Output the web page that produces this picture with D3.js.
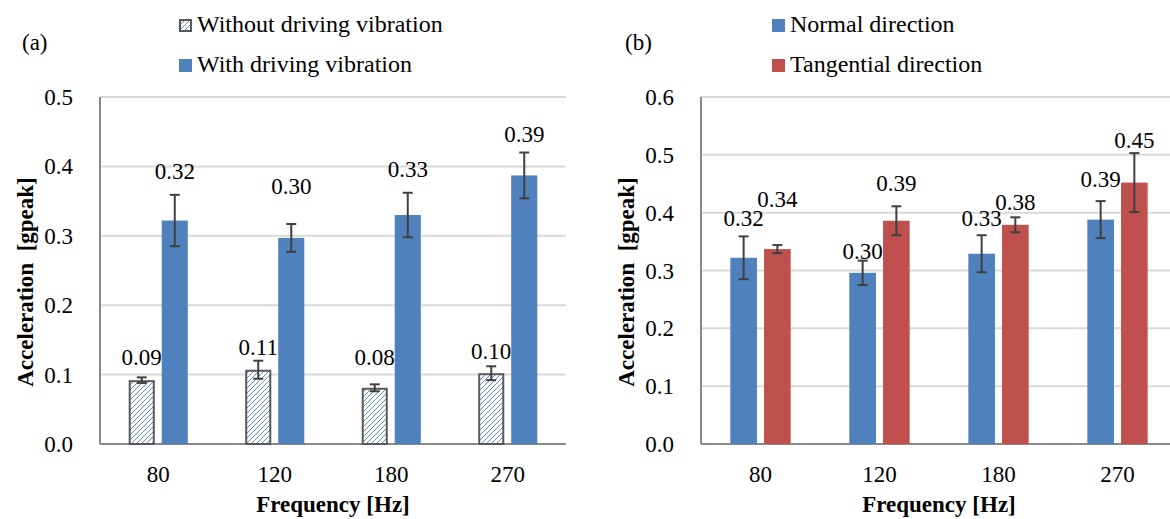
<!DOCTYPE html>
<html>
<head>
<meta charset="utf-8">
<script src="https://cdn.jsdelivr.net/npm/d3@7"></script>
<style>
  body { margin: 0; background: #fff; }
  svg { display: block; }
</style>
</head>
<body>
<script>
// categories
var freqs = ["80", "120", "180", "270"];

// panel (a)
var withoutVib = [0.092, 0.107, 0.081, 0.102];
var withoutErr = [0.004, 0.013, 0.005, 0.010];
var withVib = [0.322, 0.297, 0.330, 0.387];
var withErr = [0.037, 0.020, 0.032, 0.033];
var withoutLabelAt = [0.125, 0.140, 0.125, 0.134];
var withLabelAt = [0.394, 0.372, 0.396, 0.447];
var ticksA = [0, 0.1, 0.2, 0.3, 0.4, 0.5];

// panel (b)
var normalDir = [0.322, 0.296, 0.329, 0.388];
var normalErr = [0.037, 0.021, 0.032, 0.032];
var tangDir = [0.337, 0.386, 0.379, 0.452];
var tangErr = [0.007, 0.025, 0.013, 0.051];
var normalLabelAt = [0.391, 0.333, 0.391, 0.458];
var tangLabelAt = [0.424, 0.452, 0.419, 0.526];
var ticksB = [0, 0.1, 0.2, 0.3, 0.4, 0.5, 0.6];

var width = 1170, height = 519;
var fmt = d3.format(".2f");
var serif = "'Liberation Serif', 'Times New Roman', Times, serif";

var svg = d3.select("body").append("svg")
    .attr("width", width)
    .attr("height", height)
    .attr("font-family", serif)
    .style("font-family", serif);

svg.append("rect").attr("width", width).attr("height", height).attr("fill", "#fff");

// hatch for the "without" bars
var defs = svg.append("defs");
var hatch = defs.append("pattern")
    .attr("id", "hatch")
    .attr("patternUnits", "userSpaceOnUse")
    .attr("width", 5)
    .attr("height", 5);
hatch.append("rect").attr("width", 5).attr("height", 5).attr("fill", "#fff");
hatch.append("path")
    .attr("d", "M0,5 L5,0 M-1,1 L1,-1 M4,6 L6,4")
    .attr("stroke", "#5f8cc8")
    .attr("stroke-width", 1);

function addText(sel) {
    return sel.append("text")
        .attr("font-family", serif)
        .attr("fill", "#000");
}

function drawPanel(p) {
    var g = svg.append("g");

    var x = d3.scaleBand().domain(freqs).range([p.left, p.right]);
    var sub = d3.scaleBand().domain([0, 1]).range([0, x.bandwidth()])
        .paddingInner(0.21).paddingOuter(0.87);
    var y = d3.scaleLinear().domain([0, p.yMax]).range([p.bottom, p.top]);

    // gridlines
    g.selectAll(".grid")
        .data(p.ticks.filter(d => d > 0))
        .join("line")
        .attr("x1", p.left)
        .attr("x2", p.right)
        .attr("y1", d => y(d))
        .attr("y2", d => y(d))
        .attr("stroke", "#d9d9d9")
        .attr("stroke-width", 2);

    // axes lines
    g.append("line")
        .attr("x1", p.left).attr("x2", p.left)
        .attr("y1", y(p.yMax)).attr("y2", y(0))
        .attr("stroke", "#888").attr("stroke-width", 2);
    g.append("line")
        .attr("x1", p.left).attr("x2", p.right)
        .attr("y1", y(0)).attr("y2", y(0))
        .attr("stroke", "#888").attr("stroke-width", 2);

    // y tick labels
    g.selectAll(".ytick")
        .data(p.ticks)
        .join("text")
        .attr("font-family", serif)
        .attr("x", p.left - 27)
        .attr("y", d => y(d))
        .attr("dy", "0.35em")
        .attr("text-anchor", "end")
        .attr("font-size", 23)
        .text(d => d3.format(".1f")(d));

    // x tick labels
    g.selectAll(".xtick")
        .data(freqs)
        .join("text")
        .attr("font-family", serif)
        .attr("x", d => x(d) + x.bandwidth() / 2)
        .attr("y", 482)
        .attr("text-anchor", "middle")
        .attr("font-size", 23)
        .text(d => d);

    p.series.forEach(function(s, si) {
        var rows = freqs.map((f, i) => ({f: f, v: s.values[i], e: s.errs[i], at: s.labelAt[i]}));
        var bx = d => x(d.f) + sub(si);
        var bw = sub.bandwidth();
        var inset = s.hatched ? 1 : 0;

        g.selectAll(".bar" + si)
            .data(rows)
            .join("rect")
            .attr("x", d => bx(d) + inset)
            .attr("y", d => y(d.v) + inset)
            .attr("width", bw - 2 * inset)
            .attr("height", d => y(0) - y(d.v) - inset)
            .attr("fill", s.fill)
            .attr("stroke", s.hatched ? "#595959" : "none")
            .attr("stroke-width", 2);

        // error bars
        var eb = g.selectAll(".err" + si)
            .data(rows)
            .join("g")
            .attr("stroke", "#404040")
            .attr("stroke-width", 2);
        eb.append("line")
            .attr("x1", d => bx(d) + bw / 2).attr("x2", d => bx(d) + bw / 2)
            .attr("y1", d => y(d.v - d.e)).attr("y2", d => y(d.v + d.e));
        eb.append("line")
            .attr("x1", d => bx(d) + bw / 2 - 5).attr("x2", d => bx(d) + bw / 2 + 5)
            .attr("y1", d => y(d.v + d.e)).attr("y2", d => y(d.v + d.e));
        eb.append("line")
            .attr("x1", d => bx(d) + bw / 2 - 5).attr("x2", d => bx(d) + bw / 2 + 5)
            .attr("y1", d => y(d.v - d.e)).attr("y2", d => y(d.v - d.e));

        // value labels
        g.selectAll(".lab" + si)
            .data(rows)
            .join("text")
            .attr("font-family", serif)
            .attr("x", d => bx(d) + bw / 2)
            .attr("y", d => y(d.at))
            .attr("dy", "0.35em")
            .attr("text-anchor", "middle")
            .attr("font-size", 23)
            .text(d => fmt(d.v));

        // legend
        var ly = 32 + si * 40;
        g.append("rect")
            .attr("x", p.legendX + inset)
            .attr("y", ly - 13 + inset)
            .attr("width", 13 - 2 * inset)
            .attr("height", 13 - 2 * inset)
            .attr("fill", s.fill)
            .attr("stroke", s.hatched ? "#595959" : "none")
            .attr("stroke-width", 2);
        addText(g)
            .attr("x", p.legendX + 18)
            .attr("y", ly)
            .attr("font-size", 24)
            .text(s.name);
    });

    // panel tag
    addText(g)
        .attr("x", p.tagX)
        .attr("y", 50)
        .attr("font-size", 23)
        .text(p.tag);

    // axis titles
    addText(g)
        .attr("x", (p.left + p.right) / 2)
        .attr("y", 512)
        .attr("text-anchor", "middle")
        .attr("font-size", 23)
        .attr("font-weight", "bold")
        .text("Frequency [Hz]");

    addText(g)
        .attr("transform", `translate(${p.left - 67}, 282) rotate(-90)`)
        .attr("text-anchor", "middle")
        .attr("font-size", 23)
        .attr("font-weight", "bold")
        .attr("xml:space", "preserve")
        .style("white-space", "pre")
        .text("Acceleration  [gpeak]");
}

drawPanel({
    left: 100, right: 566, top: 97, bottom: 444,
    yMax: 0.5, ticks: ticksA,
    tag: "(a)", tagX: 22, legendX: 179,
    series: [
        {name: "Without driving vibration", values: withoutVib, errs: withoutErr, labelAt: withoutLabelAt, fill: "url(#hatch)", hatched: true},
        {name: "With driving vibration", values: withVib, errs: withErr, labelAt: withLabelAt, fill: "#4f81bd"}
    ]
});

drawPanel({
    left: 701, right: 1177, top: 97, bottom: 444,
    yMax: 0.6, ticks: ticksB,
    tag: "(b)", tagX: 625, legendX: 772,
    series: [
        {name: "Normal direction", values: normalDir, errs: normalErr, labelAt: normalLabelAt, fill: "#4f81bd"},
        {name: "Tangential direction", values: tangDir, errs: tangErr, labelAt: tangLabelAt, fill: "#c0504d"}
    ]
});
</script>
</body>
</html>
